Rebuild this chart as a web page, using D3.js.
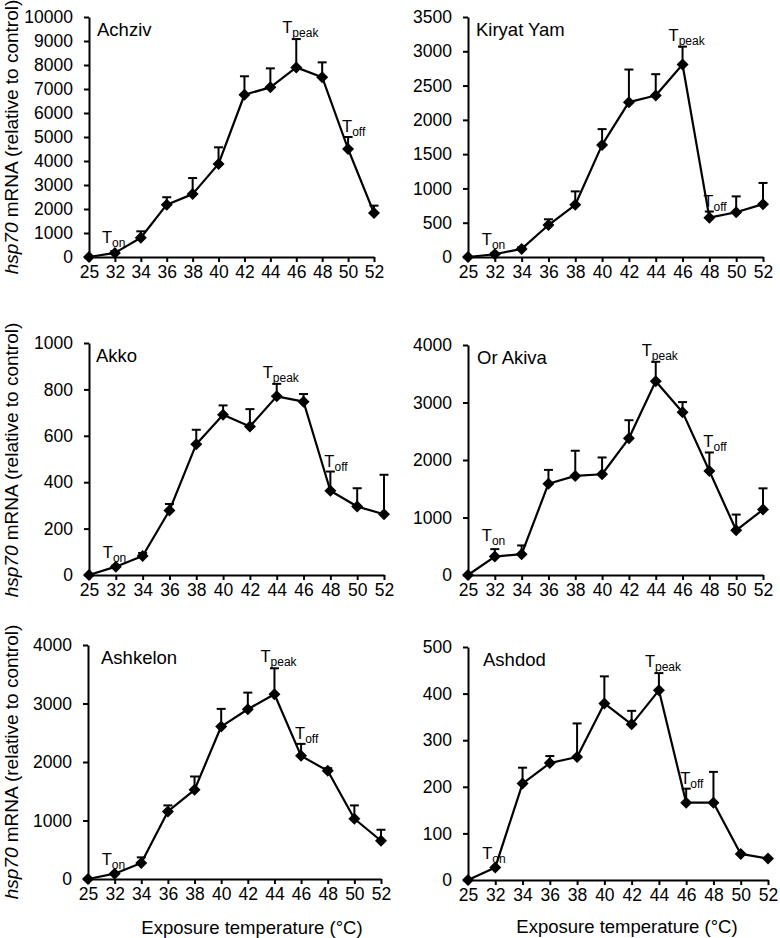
<!DOCTYPE html>
<html>
<head>
<meta charset="utf-8">
<script src="https://cdn.jsdelivr.net/npm/d3@7"></script>
<style>
  html, body { margin: 0; padding: 0; background: #fff; }
  svg { display: block; font-family: "Liberation Sans", Arial, sans-serif; }
  svg text { fill: #000; }
</style>
</head>
<body>
<svg id="chart" width="780" height="938"></svg>
<script>
// ---------- DATA ----------
const temps = ["25", "32", "34", "36", "38", "40", "42", "44", "46", "48", "50", "52"];

const siteNames = ["Achziv", "Kiryat Yam", "Akko", "Or Akiva", "Ashkelon", "Ashdod"];

const achzivMean = [0, 170, 800, 2180, 2620, 3880, 6760, 7070, 7900, 7490, 4500, 1830];
const achzivErr  = [0, 80, 270, 310, 670, 690, 770, 790, 1180, 620, 500, 310];

const kiryatMean = [0, 40, 118, 466, 761, 1635, 2258, 2356, 2808, 574, 653, 771];
const kiryatErr  = [0, 20, 22, 84, 196, 230, 476, 310, 260, 89, 231, 309];

const akkoMean = [0, 36, 82, 278, 564, 691, 640, 770, 747, 363, 295, 262];
const akkoErr  = [0, 4, 13, 28, 62, 40, 75, 54, 33, 83, 79, 170];

const orAkivaMean = [0, 321, 362, 1588, 1723, 1752, 2377, 3369, 2832, 1810, 777, 1139];
const orAkivaErr  = [0, 129, 152, 240, 438, 292, 315, 339, 175, 321, 274, 368];

const ashkelonMean = [0, 91, 273, 1155, 1525, 2606, 2902, 3158, 2105, 1849, 1030, 654];
const ashkelonErr  = [0, 9, 97, 103, 227, 302, 284, 444, 205, 46, 228, 188];

const ashdodMean = [0, 27, 207, 251, 264, 379, 334, 407, 166, 166, 56, 46];
const ashdodErr  = [0, 0, 34, 15, 72, 58, 29, 37, 30, 66, 0, 0];

const yMax   = [10000, 3500, 1000, 4000, 4000, 500];
const yStep  = [1000, 500, 200, 1000, 1000, 100];

// temperature thresholds (index into temps)
const tOnIdx   = [1, 1, 1, 1, 1, 1];
const tPeakIdx = [8, 8, 7, 7, 7, 7];
const tOffIdx  = [10, 9, 9, 9, 8, 8];

const yTitle = "mRNA (relative to control)";
const yTitleItalic = "hsp70";
const xTitle = "Exposure temperature (\u00B0C)";

// ---------- LAYOUT ----------
const panels = [
  { mean: achzivMean,   err: achzivErr,   x0: 89,  x1: 374, top: 17,  bottom: 257, tdx: 8 },
  { mean: kiryatMean,   err: kiryatErr,   x0: 468, x1: 763, top: 17,  bottom: 257, tdx: 8 },
  { mean: akkoMean,     err: akkoErr,     x0: 89,  x1: 384, top: 343, bottom: 575, tdx: 7 },
  { mean: orAkivaMean,  err: orAkivaErr,  x0: 468, x1: 763, top: 345, bottom: 575, tdx: 9 },
  { mean: ashkelonMean, err: ashkelonErr, x0: 88,  x1: 381, top: 645, bottom: 879, tdx: 13 },
  { mean: ashdodMean,   err: ashdodErr,   x0: 468, x1: 768, top: 647, bottom: 880, tdx: 15 }
];

const FONT = '"Liberation Sans", Arial, sans-serif';
const svg = d3.select("#chart");
const diamond = "M0,-6L6,0L0,6L-6,0Z";

panels.forEach((p, i) => {
  const g = svg.append("g");
  const x = d3.scalePoint().domain(temps).range([p.x0, p.x1]).padding(0);
  const y = d3.scaleLinear().domain([0, yMax[i]]).range([p.bottom, p.top]);
  const ticks = d3.range(0, yMax[i] + yStep[i] / 2, yStep[i]);

  // axes
  const xa = g.append("g").attr("transform", `translate(0,${p.bottom})`)
    .call(d3.axisBottom(x).tickSize(5).tickSizeOuter(0).tickPadding(4));
  const ya = g.append("g").attr("transform", `translate(${p.x0},0)`)
    .call(d3.axisLeft(y).tickValues(ticks).tickFormat(d3.format("d")).tickSize(5).tickSizeOuter(0).tickPadding(11));
  [xa, ya].forEach(a => {
    a.attr("font-size", 17.5).attr("font-family", FONT);
    a.select(".domain").attr("stroke", "#000").attr("stroke-width", 2);
    a.selectAll(".tick line").attr("stroke", "#000").attr("stroke-width", 2);
    a.selectAll(".tick text").attr("fill", "#000")
      .style("font-size", "17.5px").style("font-family", FONT);
  });

  const pts = temps.map((t, j) => ({ t, v: p.mean[j], e: p.err[j] }));

  // error bars (upper only)
  const eb = g.append("g").attr("stroke", "#000").attr("stroke-width", 2);
  pts.filter(d => d.e > 0).forEach(d => {
    eb.append("line").attr("x1", x(d.t)).attr("x2", x(d.t))
      .attr("y1", y(d.v)).attr("y2", y(d.v + d.e));
    eb.append("line").attr("x1", x(d.t) - 4.5).attr("x2", x(d.t) + 4.5)
      .attr("y1", y(d.v + d.e)).attr("y2", y(d.v + d.e));
  });

  // line
  g.append("path").datum(pts)
    .attr("fill", "none").attr("stroke", "#000").attr("stroke-width", 2.2)
    .attr("stroke-linejoin", "round")
    .attr("d", d3.line().x(d => x(d.t)).y(d => y(d.v)));

  // markers
  g.selectAll(".mk").data(pts).enter().append("path")
    .attr("d", diamond).attr("fill", "#000")
    .attr("transform", d => `translate(${x(d.t)},${y(d.v)})`);

  // site title
  g.append("text").attr("x", p.x0 + p.tdx).attr("y", p.top + 19)
    .style("font-size", "18.5px").text(siteNames[i]);

  // threshold annotations
  function ann(idx, sub, dx, dy) {
    const d = pts[idx];
    const yy = Math.min(y(d.v), y(d.v + d.e));
    const t = g.append("text").attr("x", x(d.t) + dx).attr("y", yy + dy)
      .style("font-size", "16.5px");
    t.append("tspan").text("T");
    t.append("tspan").attr("dy", 4).style("font-size", "12px").text(sub);
  }
  ann(tOnIdx[i], "on", -13, -8);
  ann(tPeakIdx[i], "peak", -14, -6);
  ann(tOffIdx[i], "off", -6, -5);
});

// y-axis titles (left column)
[137, 460, 762].forEach(cy => {
  const t = svg.append("text")
    .attr("transform", `translate(18,${cy}) rotate(-90)`)
    .attr("text-anchor", "middle")
    .style("font-size", "19px");
  t.append("tspan").style("font-style", "italic").text(yTitleItalic);
  t.append("tspan").text(" " + yTitle);
});

// x-axis titles (bottom row)
[[252, 934], [627, 933]].forEach(([cx, by]) => {
  svg.append("text").attr("x", cx).attr("y", by).attr("text-anchor", "middle")
    .style("font-size", "18.5px").text(xTitle);
});
</script>
</body>
</html>
